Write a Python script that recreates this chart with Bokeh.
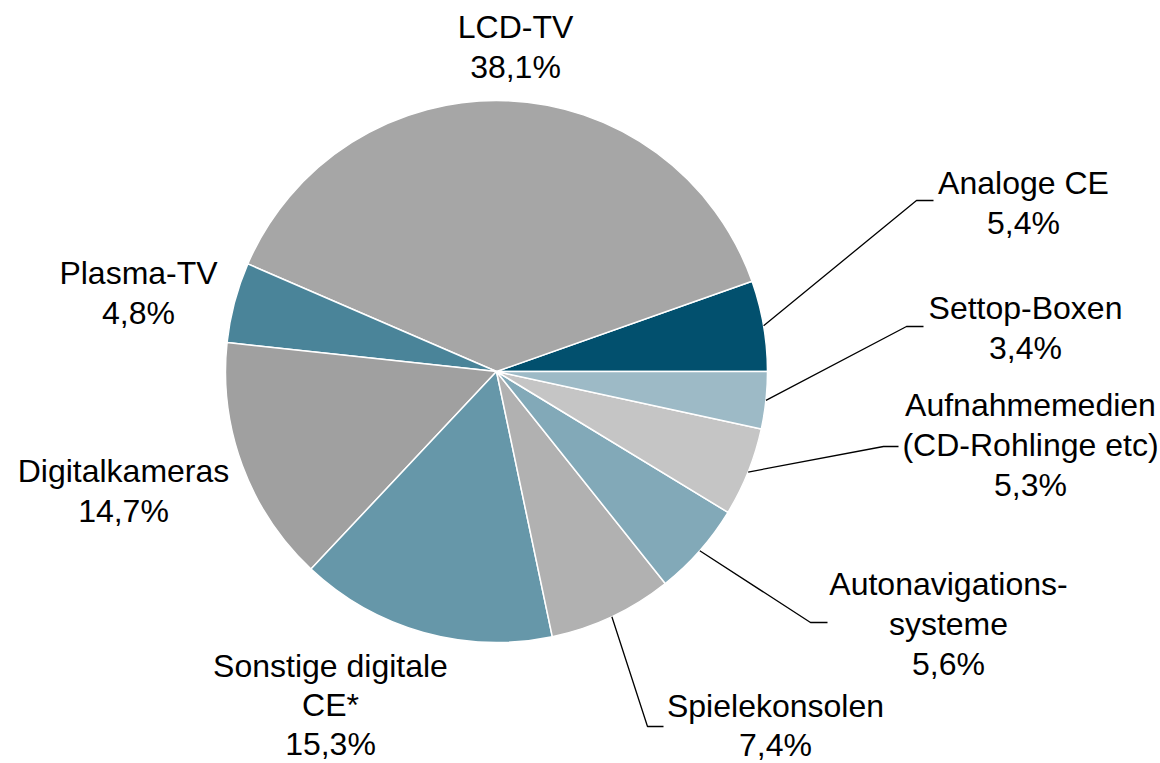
import math
from bokeh.plotting import figure
from bokeh.models import Range1d
from bokeh.core.properties import value
from bokeh.embed import file_html
from bokeh.resources import INLINE

# ---------------- data (counter-clockwise from 3 o'clock) ----------------
categories = ["Analoge CE", "LCD-TV", "Plasma-TV", "Digitalkameras",
              "Sonstige digitale CE*", "Spielekonsolen",
              "Autonavigationssysteme", "Aufnahmemedien (CD-Rohlinge etc)",
              "Settop-Boxen"]
shares = [5.4, 38.1, 4.8, 14.7, 15.3, 7.4, 5.6, 5.3, 3.4]
label_lines = [["Analoge CE"], ["LCD-TV"], ["Plasma-TV"], ["Digitalkameras"],
               ["Sonstige digitale", "CE*"], ["Spielekonsolen"],
               ["Autonavigations-", "systeme"],
               ["Aufnahmemedien", "(CD-Rohlinge etc)"], ["Settop-Boxen"]]
colors = ["#02506E", "#A6A6A6", "#4A8499", "#A0A0A0", "#6697A9",
          "#B1B1B1", "#82A9B8", "#C5C5C5", "#9DBAC6"]

# ---------------- layout (reference pixel coordinates) ----------------
CX, CY, R = 496, 371, 271
FONT = "32px"
TEXT_DY = -10  # renderer baseline correction
# label centre x, first baseline y, line step
label_pos = {
    "Analoge CE": (1023, 192, 40),
    "LCD-TV": (515, 36, 40),
    "Plasma-TV": (138, 282, 40),
    "Digitalkameras": (123, 480, 40),
    "Sonstige digitale CE*": (330, 675, 39),
    "Spielekonsolen": (775, 715, 39),
    "Autonavigationssysteme": (948, 593, 40),
    "Aufnahmemedien (CD-Rohlinge etc)": (1030, 414, 40),
    "Settop-Boxen": (1025, 317, 40),
}
# leader line elbow and end of short horizontal
leaders = {
    "Analoge CE": ((916, 200), (933, 200)),
    "Settop-Boxen": ((906, 326), (923, 326)),
    "Aufnahmemedien (CD-Rohlinge etc)": ((883, 446), (898, 446)),
    "Autonavigationssysteme": ((810, 622), (827, 622)),
    "Spielekonsolen": ((647, 726), (663, 726)),
}

p = figure(width=1160, height=763, output_backend="svg", toolbar_location=None,
           x_range=Range1d(0, 1160), y_range=Range1d(-763, 0),
           x_axis_type=None, y_axis_type=None, min_border=0,
           background_fill_color="white", border_fill_color="white")
p.outline_line_color = None

total = sum(shares)
starts, ends, mids = [], [], []
acc = 0.0
for s in shares:
    a0 = acc / total * 2 * math.pi
    acc += s
    a1 = acc / total * 2 * math.pi
    starts.append(a0)
    ends.append(a1)
    mids.append((a0 + a1) / 2)

p.wedge(x=[CX] * len(shares), y=[-CY] * len(shares), radius=R,
        start_angle=starts, end_angle=ends, direction="anticlock",
        fill_color=colors, line_color="white", line_width=1.5)

# leader lines
xs, ys = [], []
for cat, mid in zip(categories, mids):
    if cat in leaders:
        (ex, ey), (hx, hy) = leaders[cat]
        sx = CX + R * math.cos(mid)
        sy = CY - R * math.sin(mid)
        xs.append([sx, ex, hx])
        ys.append([-sy, -ey, -hy])
p.multi_line(xs=xs, ys=ys, line_color="black", line_width=1.3)

# labels
tx, ty, tt = [], [], []
for cat, lines, s in zip(categories, label_lines, shares):
    pct = f"{s:.1f}%".replace(".", ",")
    cx, by, step = label_pos[cat]
    for i, line in enumerate(lines + [pct]):
        tx.append(cx)
        ty.append(-(by + i * step + TEXT_DY))
        tt.append(line)
p.text(x=tx, y=ty, text=tt, text_align="center", text_baseline="alphabetic",
       text_font=value("Liberation Sans"), text_font_size=FONT,
       text_color="black")

open("out.html", "w").write(file_html(p, INLINE))
